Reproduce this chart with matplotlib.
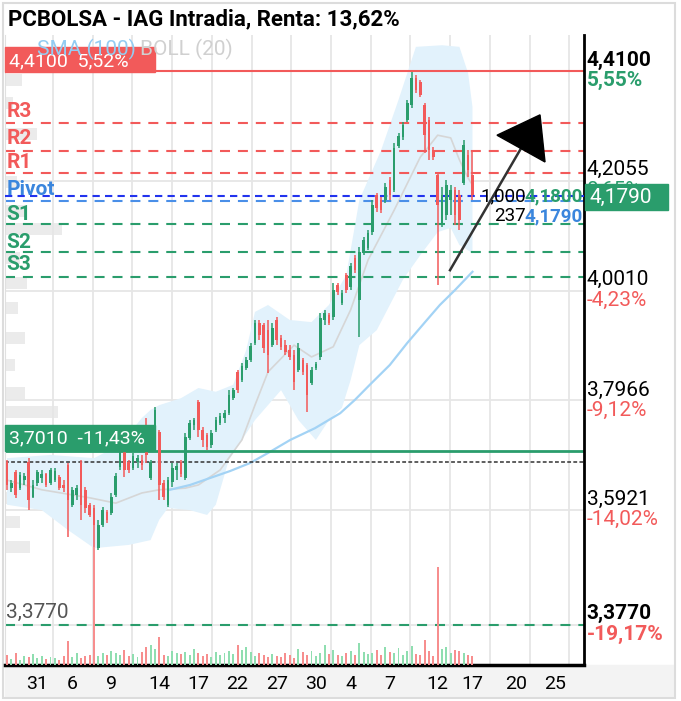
import matplotlib.pyplot as plt
from matplotlib.patches import Rectangle, Polygon
import numpy as np

plt.rcParams['font.family'] = ['Roboto', 'DejaVu Sans']

W, H = 681, 701
GREEN = '#2a9d6c'
RED = '#f25a5a'
BLUE = '#3b86dd'

# intraday candles, 3 per trading day (EUR)
opens = [3.681, 3.632, 3.662, 3.632, 3.647, 3.681, 3.616, 3.642, 3.651, 3.659,
         3.642, 3.647, 3.653, 3.638, 3.675, 3.601, 3.619, 3.681, 3.629, 3.601,
         3.595, 3.520, 3.563, 3.588, 3.586, 3.619, 3.672, 3.703, 3.681, 3.670,
         3.681, 3.685, 3.750, 3.651, 3.750, 3.737, 3.642, 3.601, 3.644, 3.666,
         3.681, 3.651, 3.726, 3.750, 3.793, 3.741, 3.731, 3.713, 3.741, 3.754,
         3.763, 3.772, 3.800, 3.849, 3.834, 3.856, 3.871, 3.903, 3.940, 3.937,
         3.927, 3.899, 3.946, 3.912, 3.899, 3.890, 3.881, 3.853, 3.871, 3.862,
         3.828, 3.856, 3.877, 3.946, 3.955, 3.952, 4.011, 3.978, 4.030, 4.008,
         4.062, 3.983, 4.071, 4.080, 4.110, 4.179, 4.170, 4.170, 4.207, 4.189,
         4.271, 4.288, 4.319, 4.347, 4.398, 4.390, 4.347, 4.319, 4.263, 4.217,
         4.123, 4.142, 4.170, 4.189, 4.179, 4.202, 4.254, 4.217]
highs = [3.685, 3.647, 3.666, 3.662, 3.660, 3.688, 3.647, 3.666, 3.666, 3.660,
         3.670, 3.670, 3.657, 3.647, 3.679, 3.634, 3.638, 3.685, 3.634, 3.604,
         3.601, 3.573, 3.597, 3.591, 3.623, 3.660, 3.709, 3.709, 3.685, 3.698,
         3.694, 3.694, 3.763, 3.685, 3.784, 3.741, 3.647, 3.653, 3.679, 3.679,
         3.685, 3.735, 3.759, 3.763, 3.797, 3.746, 3.735, 3.741, 3.765, 3.772,
         3.778, 3.815, 3.819, 3.853, 3.866, 3.877, 3.903, 3.946, 3.946, 3.940,
         3.946, 3.940, 3.952, 3.918, 3.909, 3.899, 3.890, 3.903, 3.875, 3.866,
         3.858, 3.868, 3.959, 3.965, 3.959, 4.015, 4.015, 4.002, 4.034, 4.052,
         4.067, 4.082, 4.101, 4.114, 4.170, 4.183, 4.176, 4.202, 4.213, 4.276,
         4.295, 4.316, 4.357, 4.409, 4.403, 4.394, 4.351, 4.325, 4.269, 4.220,
         4.194, 4.207, 4.198, 4.194, 4.189, 4.282, 4.263, 4.263]
lows = [3.629, 3.625, 3.614, 3.629, 3.638, 3.591, 3.614, 3.636, 3.642, 3.634,
        3.638, 3.644, 3.629, 3.625, 3.541, 3.597, 3.610, 3.573, 3.586, 3.578,
        3.513, 3.517, 3.560, 3.567, 3.582, 3.616, 3.666, 3.653, 3.660, 3.666,
        3.670, 3.666, 3.679, 3.647, 3.746, 3.610, 3.610, 3.597, 3.634, 3.647,
        3.653, 3.647, 3.722, 3.741, 3.728, 3.709, 3.703, 3.707, 3.737, 3.750,
        3.754, 3.769, 3.797, 3.810, 3.830, 3.853, 3.868, 3.899, 3.909, 3.884,
        3.847, 3.896, 3.899, 3.890, 3.881, 3.871, 3.815, 3.849, 3.843, 3.774,
        3.825, 3.853, 3.871, 3.937, 3.937, 3.946, 3.993, 3.974, 3.996, 4.002,
        4.034, 3.914, 4.067, 4.077, 4.105, 4.148, 4.146, 4.164, 4.170, 4.185,
        4.267, 4.282, 4.316, 4.342, 4.370, 4.362, 4.258, 4.245, 4.245, 4.011,
        4.120, 4.133, 4.142, 4.123, 4.114, 4.198, 4.213, 4.170]
closes = [3.638, 3.642, 3.619, 3.657, 3.655, 3.610, 3.638, 3.662, 3.659, 3.638,
          3.666, 3.664, 3.632, 3.632, 3.610, 3.629, 3.632, 3.601, 3.595, 3.582,
          3.563, 3.563, 3.591, 3.573, 3.616, 3.655, 3.703, 3.666, 3.666, 3.692,
          3.688, 3.675, 3.694, 3.681, 3.778, 3.638, 3.616, 3.647, 3.670, 3.673,
          3.659, 3.728, 3.754, 3.759, 3.741, 3.722, 3.709, 3.735, 3.759, 3.767,
          3.772, 3.806, 3.815, 3.815, 3.860, 3.871, 3.897, 3.940, 3.918, 3.894,
          3.881, 3.931, 3.909, 3.896, 3.886, 3.877, 3.830, 3.894, 3.849, 3.806,
          3.853, 3.864, 3.950, 3.959, 3.940, 4.002, 3.998, 3.996, 4.002, 4.047,
          4.039, 4.073, 4.095, 4.108, 4.161, 4.155, 4.151, 4.194, 4.179, 4.267,
          4.290, 4.310, 4.351, 4.398, 4.375, 4.366, 4.291, 4.263, 4.250, 4.161,
          4.179, 4.198, 4.189, 4.142, 4.133, 4.273, 4.226, 4.179]
volumes = [10, 6, 12, 5, 9, 8, 11, 7, 9, 6,
           8, 7, 5, 9, 24, 8, 12, 7, 9, 10,
           118, 9, 12, 10, 14, 12, 10, 15, 9, 11,
           8, 13, 18, 20, 16, 28, 10, 9, 14, 12,
           11, 13, 10, 16, 12, 9, 11, 8, 13, 10,
           12, 14, 11, 20, 15, 18, 13, 9, 12, 10,
           8, 11, 9, 8, 12, 10, 7, 16, 13, 10,
           14, 9, 12, 20, 11, 15, 10, 9, 12, 14,
           10, 22, 13, 11, 12, 15, 10, 18, 13, 12,
           17, 10, 14, 19, 11, 10, 25, 14, 9, 98,
           16, 18, 12, 15, 14, 12, 10, 9]

# Bollinger (20) and SMA (100), read at sample candles
boll_up_x = [0, 10, 20, 26, 31, 33, 35, 40, 44, 48, 52, 55, 57, 60, 65, 70, 74,
             78, 81, 86, 90, 94, 100, 104, 106, 107]
boll_up = [3.688, 3.694, 3.688, 3.713, 3.763, 3.778, 3.787, 3.800, 3.819, 3.812,
           3.825, 3.890, 3.961, 3.974, 3.946, 3.942, 3.974, 4.030, 4.170, 4.263,
           4.357, 4.456, 4.459, 4.456, 4.407, 4.344]
boll_lo_x = [0, 8, 14, 20, 28, 33, 35, 37, 42, 46, 48, 51, 57, 63, 67, 71, 74,
             77, 79, 81, 85, 88, 91, 95, 99, 102, 104, 107]
boll_lo = [3.601, 3.591, 3.554, 3.520, 3.526, 3.535, 3.573, 3.595, 3.591, 3.582,
           3.601, 3.685, 3.759, 3.815, 3.759, 3.722, 3.759, 3.782, 3.834, 3.899,
           3.927, 3.974, 4.021, 4.067, 4.110, 4.118, 4.086, 4.071]
boll_mid_x = [0, 8, 19, 25, 31, 35, 41, 44, 49, 54, 57, 60, 66, 70, 75, 79, 83,
              89, 95, 99, 102, 104, 106, 107]
boll_mid = [3.647, 3.629, 3.614, 3.604, 3.623, 3.629, 3.632, 3.638, 3.666, 3.722,
            3.787, 3.849, 3.899, 3.877, 3.896, 3.965, 4.058, 4.151, 4.250, 4.291,
            4.286, 4.245, 4.211, 4.198]
sma_x = [37.5, 42.1, 46.7, 51.3, 55.9, 60.5, 65.1, 70.8, 76.6, 80, 83.4, 88, 92,
         96.1, 99.5, 103, 107]
sma = [3.629, 3.638, 3.651, 3.664, 3.679, 3.700, 3.722, 3.744, 3.772, 3.797,
       3.825, 3.862, 3.903, 3.942, 3.974, 4.002, 4.036]

# volume at price (left histogram)
prof_price = [4.394, 4.351, 4.293, 4.204, 4.150, 4.116, 4.062, 4.015, 3.968,
              3.912, 3.862, 3.810, 3.774, 3.722, 3.672, 3.614, 3.569, 3.522]
prof_vol = [17, 8, 32, 12, 22, 57, 15, 22, 13, 20, 10, 20, 53, 35, 30, 27, 15, 25]

# levels
pivot_names = ['R3', 'R2', 'R1', 'Pivot', 'S1', 'S2', 'S3']
pivot_levels = [4.3144, 4.2615, 4.2204, 4.1775, 4.1252, 4.0729, 4.0263]
axis_prices = [4.4100, 4.2055, 4.0010, 3.7966, 3.5921, 3.3770]
axis_pcts = ['5,55%', '0,65%', '-4,23%', '-9,12%', '-14,02%', '-19,17%']
day_ticks = [7, 15, 24, 35, 44, 53, 62, 71, 79, 88, 99, 107, 117, 126]
day_labels = ['31', '6', '9', '14', '17', '22', '27', '30', '4', '7', '12', '17', '20', '25']


def fx(px):
    return px / W


def fy(py):
    return 1 - py / H


fig = plt.figure(figsize=(W / 100, H / 100), dpi=100)
rect = [fx(5), fy(665), fx(584) - fx(5), fy(35) - fy(665)]
axp = fig.add_axes(rect)
ax = fig.add_axes(rect)
ax.patch.set_visible(False)

ylo, yhi = 3.3018, 4.4781
xlo, xhi = -0.46, 132.64

# volume profile behind everything
axp.barh(prof_price, prof_vol, height=0.022, left=0, color='#ebebeb')
axp.set_xlim(0, 579)
axp.set_ylim(ylo, yhi)
axp.axis('off')

ax.set_xlim(xlo, xhi)
ax.set_ylim(ylo, yhi)

# grid
for p in axis_prices:
    ax.axhline(p, color='#e6e6e6', lw=1.3, zorder=0.5)
for gx in 10.57 + 9.13 * np.arange(14):
    ax.axvline(gx, color='#e6e6e6', lw=1.3, zorder=0.5)

# bollinger + sma
ax.fill(np.r_[boll_up_x, boll_lo_x[::-1]], np.r_[boll_up, boll_lo[::-1]],
        color='#e2f2fc', lw=0, zorder=1)
ax.plot(boll_mid_x, boll_mid, color='#d6d6d6', lw=1.2, zorder=1.5)
ax.plot(sma_x, sma, color='#a3d3f5', lw=1.6, zorder=1.5)

# horizontal levels
dash = (0, (4.8, 3.8))
ax.axhline(4.41, color=RED, lw=1.5, zorder=2.5)
for name, lvl in zip(pivot_names, pivot_levels):
    if name.startswith('R'):
        ax.axhline(lvl, color=RED, lw=1.5, ls=dash, zorder=2.5)
    elif name.startswith('S'):
        ax.axhline(lvl, color=GREEN, lw=1.5, ls=dash, zorder=2.5)
ax.axhline(4.1775, color='#2233ee', lw=1.5, ls=(0, (3.5, 2.5)), zorder=2.6)
ax.axhline(4.168, color='#4a8fe8', lw=1.5, ls=dash, zorder=2.5)
ax.axhline(3.7010, color=GREEN, lw=2, zorder=2.5)
ax.axhline(3.681, color='#333333', lw=1.1, ls=(0, (2.5, 1.5)), zorder=2.5)
ax.axhline(3.3770, color=GREEN, lw=1.5, ls=dash, zorder=2.5)

# candles
o = np.array(opens)
c = np.array(closes)
idx = np.arange(len(c))
up = c >= o
col = np.where(up, GREEN, RED)
ax.vlines(idx, lows, highs, colors=col, lw=1.1, zorder=3)
body = np.maximum(np.abs(c - o), 0.003)
ax.bar(idx, body, bottom=np.minimum(o, c), width=0.6, color=col, zorder=3)

# volume
axv = ax.twinx()
axv.bar(idx, volumes, width=0.45, color=np.where(up, '#8fdeb0', '#f78e8e'), zorder=2)
axv.set_ylim(0, 630)
axv.axis('off')

# arrow drawn on chart
ax.plot([101.84, 118.2], [4.039, 4.267], color='#333333', lw=1.8, zorder=6)
ax.add_patch(Polygon([(112.64, 4.291), (122.53, 4.329), (123.68, 4.241)],
                     closed=True, color='black', zorder=6))

# axes styling
ax.spines['top'].set_visible(False)
ax.spines['left'].set_color('#e0e0e0')
ax.spines['right'].set_color('black')
ax.spines['right'].set_linewidth(2)
ax.spines['bottom'].set_color('black')
ax.spines['bottom'].set_linewidth(2.5)
ax.set_yticks([])
ax.set_xticks(day_ticks)
ax.set_xticklabels(day_labels, fontsize=14)
ax.tick_params(axis='x', length=0, pad=7)


def left_label(price, text, color, dy, size=15, bold=True):
    ax.annotate(text, xy=(0, price), xycoords=('axes fraction', 'data'),
                xytext=(1, dy * 0.72), textcoords='offset points', ha='left',
                va='center', color=color, fontsize=size,
                fontweight='bold' if bold else 'normal', zorder=7)


def right_label(price, text, color, dy, bold=False):
    ax.annotate(text, xy=(1, price), xycoords=('axes fraction', 'data'),
                xytext=(2, dy * 0.72), textcoords='offset points', ha='left',
                va='center', color=color, fontsize=15,
                fontweight='bold' if bold else 'normal', annotation_clip=False)


name_dy = [11, 13, 11, 6, 10, 10, 12]
for name, lvl, dy in zip(pivot_names, pivot_levels, name_dy):
    colr = RED if name.startswith('R') else (GREEN if name.startswith('S') else BLUE)
    left_label(lvl, name, colr, dy)
left_label(3.3770, '3,3770', '#555555', 12, size=15, bold=False)

price_dy = [11, 12, 11, 10, 10, 11]
pct_dy = [-9, -9, -10, -10, -10, -10]
for i, (p, pct) in enumerate(zip(axis_prices, axis_pcts)):
    strong = i in (0, 5)
    txt = f'{p:.4f}'.replace('.', ',')
    right_label(p, txt, 'black', price_dy[i], bold=strong)
    pc = GREEN if not pct.startswith('-') else RED
    right_label(p, pct, pc, pct_dy[i], bold=strong)

# order tags near the last price
ax.annotate('1,000', xy=(1, 4.1775), xycoords=('axes fraction', 'data'),
            xytext=(-58 * 0.72, 0), textcoords='offset points', ha='right',
            va='center', fontsize=13.5, color='black', zorder=8)
ax.annotate('4,1800', xy=(1, 4.1775), xycoords=('axes fraction', 'data'),
            xytext=(-1 * 0.72, 0), textcoords='offset points', ha='right',
            va='center', fontsize=13.5, color=GREEN, fontweight='bold', zorder=8)
ax.annotate('237', xy=(1, 4.168), xycoords=('axes fraction', 'data'),
            xytext=(-58 * 0.72, -15 * 0.72), textcoords='offset points', ha='right',
            va='center', fontsize=13.5, color='black', zorder=8)
ax.annotate('4,1790', xy=(1, 4.168), xycoords=('axes fraction', 'data'),
            xytext=(-1 * 0.72, -15 * 0.72), textcoords='offset points', ha='right',
            va='center', fontsize=13.5, color=BLUE, fontweight='bold', zorder=8)

# figure decorations in pixel coordinates
fig.patches.append(Rectangle((fx(5), fy(697)), fx(674) - fx(5), 32 / H,
                             transform=fig.transFigure, color='#f3f3f3', zorder=-1))
fig.patches.append(Rectangle((fx(3), fy(698)), fx(675) - fx(3), 695 / H,
                             transform=fig.transFigure, fill=False,
                             ec='#dcdcdc', lw=1.5, zorder=-1))

# last price tag
fig.patches.append(Rectangle((fx(585), fy(210)), fx(668) - fx(585), 26 / H,
                             transform=fig.transFigure, color=GREEN, zorder=5))
fig.text(fx(589), fy(197), '4,1790', color='white', fontsize=15, va='center', zorder=6)

# 4,4100 and 3,7010 boxes
fig.patches.append(Rectangle((fx(5), fy(72)), fx(155) - fx(5), 25 / H,
                             transform=fig.transFigure, color=RED, zorder=5))
fig.text(fx(9), fy(61), '4,4100  5,52%', color='white', fontsize=14, va='center', zorder=6)
fig.patches.append(Rectangle((fx(5), fy(451)), fx(155) - fx(5), 26 / H,
                             transform=fig.transFigure, color=GREEN, zorder=5))
fig.text(fx(9), fy(438), '3,7010  -11,43%', color='white', fontsize=14, va='center', zorder=6)

# indicator legend
fig.text(fx(37), fy(49), 'SMA (100)', color='#93ccf2', fontsize=15, va='center', zorder=7)
fig.text(fx(140), fy(49), 'BOLL (20)', color='#d0d0d0', fontsize=15, va='center', zorder=7)

fig.text(fx(8), fy(19), 'PCBOLSA - IAG Intradia, Renta: 13,62%', fontsize=16,
         fontweight='bold', va='center')

fig.savefig('out.png', dpi=100)
